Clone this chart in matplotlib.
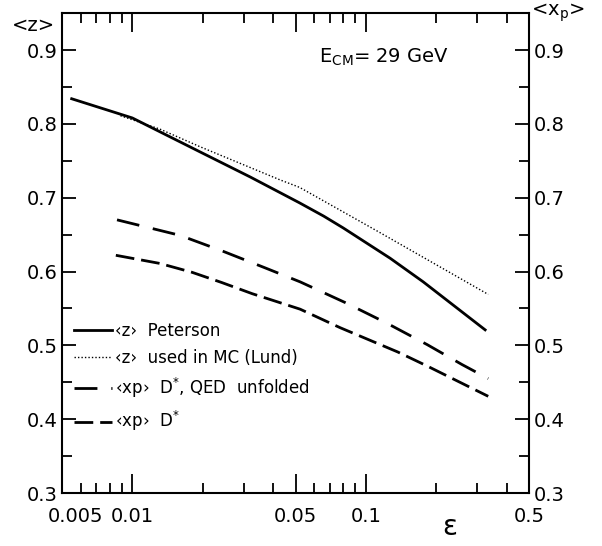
import matplotlib
matplotlib.use("Agg")
import matplotlib.pyplot as plt
import matplotlib.transforms as mtransforms
from matplotlib.ticker import FixedLocator, NullFormatter

plt.rcParams["font.family"] = ["DejaVu Sans"]
plt.rcParams["lines.scale_dashes"] = False

# <z> Peterson
eps_peterson = [0.0055, 0.01, 0.0195, 0.032, 0.052, 0.066, 0.08, 0.127, 0.176, 0.324]
z_peterson = [0.834, 0.808, 0.762, 0.728, 0.693, 0.675, 0.659, 0.618, 0.586, 0.521]

# <z> used in MC (Lund)
eps_lund = [0.0089, 0.0131, 0.0195, 0.043, 0.052, 0.113, 0.334]
z_lund = [0.811, 0.793, 0.769, 0.724, 0.714, 0.654, 0.569]

# <xp> D*, QED unfolded
eps_qed = [0.0086, 0.016, 0.0242, 0.037, 0.0523, 0.0815, 0.123, 0.183, 0.258, 0.334]
xp_qed = [0.670, 0.649, 0.628, 0.605, 0.586, 0.558, 0.530, 0.501, 0.474, 0.455]

# <xp> D*
eps_dstar = [0.0085, 0.0131, 0.018, 0.0242, 0.0326, 0.0523, 0.0775, 0.137, 0.183, 0.334]
xp_dstar = [0.622, 0.611, 0.599, 0.585, 0.570, 0.549, 0.524, 0.491, 0.472, 0.431]

x_ticks = [0.005, 0.01, 0.05, 0.1, 0.5]
x_tick_labels = ["0.005", "0.01", "0.05", "0.1", "0.5"]
x_minor = [0.006, 0.007, 0.008, 0.009, 0.02, 0.03, 0.04,
           0.06, 0.07, 0.08, 0.09, 0.2, 0.3, 0.4]
y_ticks = [0.3, 0.4, 0.5, 0.6, 0.7, 0.8, 0.9]
y_minor = [0.35, 0.45, 0.55, 0.65, 0.75, 0.85]

fig = plt.figure(figsize=(6.02, 5.46), dpi=100)
ax = fig.add_axes([0.103, 0.097, 0.776, 0.879])

ax.plot(eps_peterson, z_peterson, color="black", lw=2.0,
        label="‹z›  Peterson")
ax.plot(eps_lund, z_lund, color="black", lw=1.0, dashes=(1.0, 1.5),
        label="‹z›  used in MC (Lund)")
ax.plot(eps_qed, xp_qed, color="black", lw=2.0, dashes=(16.5, 10),
        label="‹xp›  D$^{*}$, QED  unfolded")
ax.plot(eps_dstar, xp_dstar, color="black", lw=2.0, dashes=(13.5, 5),
        label="‹xp›  D$^{*}$")

ax.set_xscale("log")
ax.set_xlim(0.005, 0.5)
ax.set_ylim(0.3, 0.95)

ax.xaxis.set_major_locator(FixedLocator(x_ticks))
ax.set_xticklabels(x_tick_labels)
ax.xaxis.set_minor_locator(FixedLocator(x_minor))
ax.xaxis.set_minor_formatter(NullFormatter())
ax.yaxis.set_major_locator(FixedLocator(y_ticks))
ax.yaxis.set_minor_locator(FixedLocator(y_minor))
ax.set_yticklabels([f"{v:.1f}" for v in y_ticks])

ax.tick_params(which="both", direction="in", top=True, right=True,
               labelright=True, labelsize=14, width=1.3)
ax.tick_params(axis="y", which="major", length=10, pad=3)
ax.tick_params(axis="y", which="minor", length=7)
ax.tick_params(axis="x", which="major", length=14, pad=10)
ax.tick_params(axis="x", which="minor", length=7)
for spine in ax.spines.values():
    spine.set_linewidth(1.5)

# the first x label sits a little to the right of its tick
first = ax.get_xticklabels()[0]
first.set_transform(first.get_transform()
                    + mtransforms.ScaledTranslation(0.13, 0, fig.dpi_scale_trans))

ax.text(-0.015, 0.975, "<z>", transform=ax.transAxes, ha="right",
        va="center", fontsize=14)
ax.text(1.005, 1.0, "<x$_\\mathrm{p}$>", transform=ax.transAxes, ha="left",
        va="center", fontsize=14)
ax.text(0.55, 0.896, "E$_\\mathrm{CM}$= 29 GeV", transform=ax.transAxes,
        fontsize=14)
ax.text(0.83, -0.071, "ε", transform=ax.transAxes, ha="center",
        va="center", fontsize=20)

ax.legend(loc="lower left", bbox_to_anchor=(0.0, 0.10), frameon=False,
          fontsize=12, handlelength=2.3, handletextpad=0.2,
          labelspacing=0.55, borderaxespad=0.3)

fig.savefig("out.png", dpi=100)
plt.close(fig)
